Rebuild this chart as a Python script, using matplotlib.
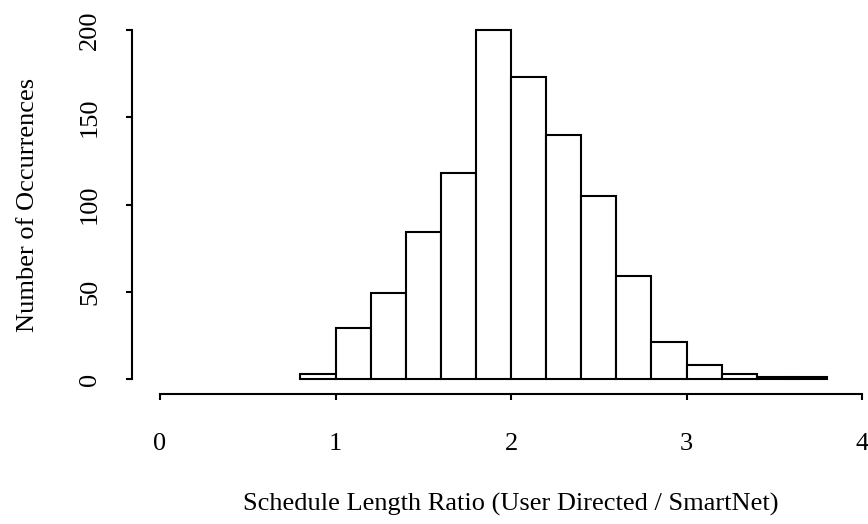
import matplotlib
matplotlib.use("Agg")
import matplotlib.pyplot as plt
import numpy as np

bin_edges = [0.8, 1.0, 1.2, 1.4, 1.6, 1.8, 2.0, 2.2, 2.4, 2.6, 2.8, 3.0, 3.2, 3.4, 3.6, 3.8]
counts = [3, 29, 49, 84, 118, 200, 173, 140, 105, 59, 21, 8, 3, 1, 1]
x_ticks = [0, 1, 2, 3, 4]
y_ticks = [0, 50, 100, 150, 200]

plt.rcParams['font.family'] = ['Liberation Serif', 'DejaVu Serif']
FS = 19

W, H = 868, 524
fig = plt.figure(figsize=(W / 100, H / 100), dpi=100)
# data area: x 0..4 -> px 160..862, y 0..200 -> px 379..30 (from top)
ax = fig.add_axes([160 / W, (H - 379) / H, 702 / W, 349 / H])

lefts = np.array(bin_edges[:-1])
widths = np.diff(bin_edges)
ax.bar(lefts, counts, width=widths, align='edge', facecolor='white',
       edgecolor='black', linewidth=1.5, clip_on=False)

ax.set_xlim(0, 4)
ax.set_ylim(0, 200)
for s in ['top', 'right']:
    ax.spines[s].set_visible(False)
ax.spines['bottom'].set_position(('outward', 15 * 0.72))
ax.spines['left'].set_position(('outward', 28 * 0.72))
ax.spines['bottom'].set_bounds(0, 4)
ax.spines['left'].set_bounds(0, 200)
for s in ['bottom', 'left']:
    ax.spines[s].set_linewidth(1.5)

ax.set_xticks(x_ticks)
ax.set_yticks(y_ticks)
ax.set_xticklabels([str(t) for t in x_ticks], fontsize=FS)
ax.set_yticklabels([str(t) for t in y_ticks], fontsize=FS, rotation=90, va='center')
ax.tick_params(axis='both', length=6 * 0.72, width=1.5, direction='out')
ax.tick_params(axis='x', pad=33 * 0.72)
ax.tick_params(axis='y', pad=25 * 0.72)

ax.set_xlabel('Schedule Length Ratio (User Directed / SmartNet)', fontsize=FS)
ax.set_ylabel('Number of Occurrences', fontsize=FS)
ax.xaxis.set_label_coords(0.5, (H - 493 - (H - 379)) / 349)
ax.yaxis.set_label_coords((39 - 160) / 702, 0.5)

fig.savefig('out.png', dpi=100)
